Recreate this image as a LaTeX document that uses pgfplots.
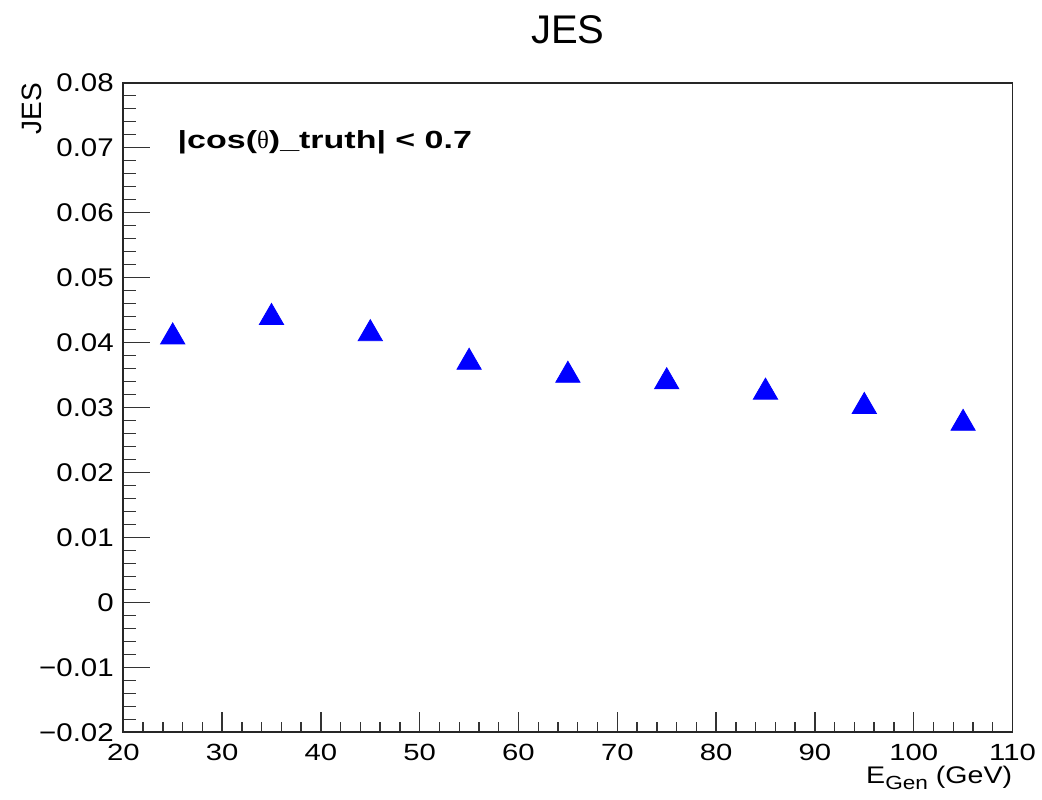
\documentclass[border=0pt]{standalone}
\usepackage{fontspec}
\setmainfont{Liberation Sans}
\newfontfamily\xtickfont{Liberation Sans}[FakeStretch=1.25]
\newfontfamily\ytickfont{Liberation Sans}[FakeStretch=1.15]
\newfontfamily\labfont{Liberation Sans}[FakeStretch=1.19]
\newfontfamily\annfont{Liberation Sans}[FakeStretch=1.37]
\newfontfamily\seriffont{Liberation Serif}
\usepackage{pgfplots}
\pgfplotsset{compat=1.18}
\begin{document}
\begin{tikzpicture}
\useasboundingbox (-61.65pt,-33.35pt) rectangle (459.35pt,366.15pt);
% axis carrying the x ticks
\begin{axis}[
  at={(0,0)}, anchor=south west, scale only axis,
  width=444.6pt, height=324.8pt,
  xmin=20, xmax=110, ymin=-0.02, ymax=0.08,
  scaled ticks=false,
  xtick={20,30,40,50,60,70,80,90,100,110},
  xticklabels={20,30,40,50,60,70,80,90,100,110},
  ytick=\empty,
  minor x tick num=4,
  tick align=inside, tick pos=left,
  major tick length=10pt, minor tick length=5pt,
  axis line style={black!85, line width=0.9pt},
  tick style={black!80, line width=0.7pt},
  xticklabel style={font=\xtickfont\fontsize{11.7pt}{13pt}\selectfont, anchor=north, inner sep=0pt, yshift=-5.85pt},
]
\end{axis}
% axis carrying the y ticks and the data
\begin{axis}[
  at={(0,0)}, anchor=south west, scale only axis,
  width=444.6pt, height=324.8pt,
  xmin=20, xmax=110, ymin=-0.02, ymax=0.08,
  scaled ticks=false,
  xtick=\empty,
  ytick={-0.02,-0.01,0,0.01,0.02,0.03,0.04,0.05,0.06,0.07,0.08},
  yticklabels={−0.02,−0.01,0,0.01,0.02,0.03,0.04,0.05,0.06,0.07,0.08},
  minor y tick num=4,
  tick align=inside, tick pos=left,
  major tick length=13.3pt, minor tick length=6.3pt,
  axis line style={black!85, line width=0.9pt},
  tick style={black!80, line width=0.7pt},
  yticklabel style={font=\ytickfont\fontsize{12.8pt}{14pt}\selectfont, anchor=east, inner sep=0pt, xshift=-4.6pt},
  clip=false,
]
\addplot[only marks, mark=triangle*, mark size=7pt, color=blue, fill=blue,
  mark options={yshift=-1.75pt}] coordinates {
  (25,0.0414) (35,0.0444) (45,0.0419) (55,0.0375) (65,0.0355)
  (75,0.0345) (85,0.0329) (95,0.0307) (105,0.0281)
};
\node[anchor=base, inner sep=0pt, font=\fontsize{20pt}{22pt}\selectfont]
  at (rel axis cs:0.5,1) [yshift=19.7pt] {JES};
\node[xshift=-40.8pt, rotate=90, anchor=base east, inner sep=0pt, font=\fontsize{14pt}{16pt}\selectfont]
  at (rel axis cs:0,1) {JES};
\node[anchor=base east, inner sep=0pt, font=\labfont\fontsize{12pt}{14pt}\selectfont]
  at (rel axis cs:1,0) [yshift=-25.5pt] {E\raisebox{-3.3pt}{\fontsize{9.5pt}{10pt}\selectfont Gen} (GeV)};
\node[anchor=base west, inner sep=0pt, font=\annfont\bfseries\fontsize{12.4pt}{14pt}\selectfont]
  at (rel axis cs:0,1) [xshift=27pt, yshift=-32.8pt] {|cos({\seriffont\mdseries θ})\_truth| < 0.7};
\end{axis}
\end{tikzpicture}
\end{document}
